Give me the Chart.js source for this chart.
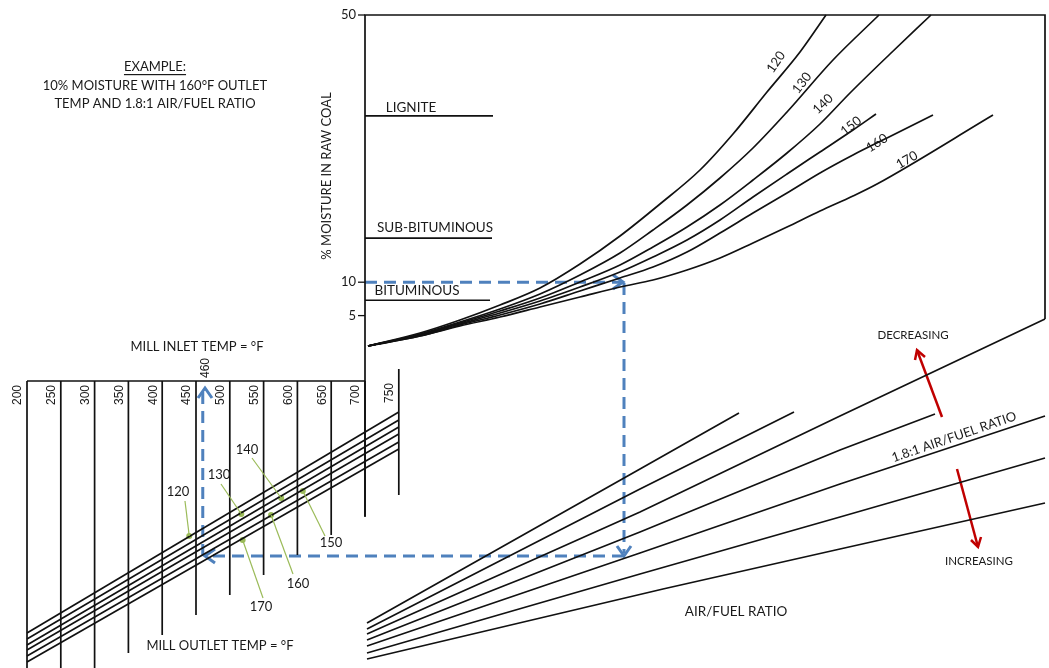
<!DOCTYPE html>
<html><head><meta charset="utf-8">
<script src="https://cdn.jsdelivr.net/npm/chart.js@4.4.1/dist/chart.umd.min.js"></script>
<style>html,body{margin:0;padding:0;background:#fff;}#wrap{width:1049px;height:668px;position:relative;}</style>
</head><body><div id="wrap"><canvas id="c" width="1049" height="668"></canvas></div>
<script>
// ================= DATA =================
// Mill inlet temperature scale (°F)
const inletTemps = [200, 250, 300, 350, 400, 450, 500, 550, 600, 650, 700, 750];
const inletLineBottom = [668, 668, 668, 653, 635, 615, 595, 575, 555, 535, 516, 495];
// Moisture axis ticks (% moisture in raw coal)
const moistureTicks = [50, 10, 5];
// Coal types and their typical moisture (%)
const coalTypes = ['LIGNITE', 'SUB-BITUMINOUS', 'BITUMINOUS'];
const coalMoisture = [34.9, 16.6, 7.3];
const coalLineEnd = [493, 492, 490];
// Mill outlet temperatures (°F)
const outletTemps = [120, 130, 140, 150, 160, 170];
// outlet-temp lines in the inlet section: y at inlet 200°F and at 750°F
const outletLeftY = [633, 639, 645, 650, 656, 662];
const outletRightY = [412, 420, 427, 434, 442, 449];
// marked points on outlet lines (inlet °F, y) and their label anchors
const outletDotT = [440, 517, 576, 608, 561, 519];
const outletDotY = [536, 514, 498, 491, 515, 540];
const outletLabelX = [178, 219, 247, 331, 298, 261];
const outletLabelY = [492, 475, 450, 543, 584, 607];
const outletLeaderEndX = [185, 221, 252, 325, 293, 263];
const outletLeaderEndY = [501, 484, 458, 536, 574, 598];
// moisture curves (one per outlet temperature) in the upper panel
const curve120 = [[368,346],[420,333],[460,320],[500,305],[540,288],[580,264],[620,236],[660,204],[700,170],[733,134],[767,92],[800,52],[826,15]];
const curve130 = [[368,346],[420,334],[460,322],[500,309],[540,294],[580,275],[620,253],[653,230],[687,205],[720,178],[753,148],[787,112],[833,60],[879,15]];
const curve140 = [[368,346],[420,335],[460,323],[500,311],[540,298],[580,282],[620,265],[653,247],[687,227],[720,205],[753,180],[787,153],[820,124],[850,93],[890,54],[931,15]];
const curve150 = [[368,346],[420,335],[460,324],[500,313],[540,301],[580,287],[620,272],[653,257],[687,240],[720,220],[753,197],[787,174],[820,152],[853,130],[876,114]];
const curve160 = [[368,346],[420,336],[460,325],[500,315],[540,304],[580,291],[620,278],[653,267],[687,252],[720,233],[753,213],[787,193],[820,173],[853,155],[887,138],[933,115]];
const curve170 = [[368,346],[420,336],[460,326],[500,317],[540,307],[580,297],[620,287],[653,280],[687,270],[720,258],[753,243],[787,227],[820,211],[853,196],[877,184],[993,115]];
const topCurves = [curve120, curve130, curve140, curve150, curve160, curve170];
const topLabelX = [776, 802, 823, 851, 877, 907];
const topLabelY = [62, 83, 104, 126, 143, 160];
const topLabelRot = [-55, -52, -44, -38, -33, -30];
// air/fuel ratio lines in the lower right panel
const afLine1 = [[367,623],[640,469],[739,413]];
const afLine2 = [[367,629],[640,489],[794,412]];
const afLine3 = [[367,634],[640,512],[840,416],[1045,319]];
const afLine4 = [[367,640],[640,532],[840,450],[935,414]];
const afLine5 = [[367,646],[640,553],[840,484],[1045,416]]; // 1.8:1
const afLine6 = [[367,653],[640,574],[840,517],[1045,458]];
const afLine7 = [[367,659],[663,589],[840,549],[1045,503]];
const afLines = [afLine1, afLine2, afLine3, afLine4, afLine5, afLine6, afLine7];
// worked example: 10 % moisture, 160 °F outlet, 1.8:1 air/fuel -> 460 °F inlet
const exampleMoisture = 10;
const exampleInlet = 460;

// ================= CHART =================
const BLACK = '#111111', BLUE = '#4f81bd', GREEN = '#9bbb59', RED = '#c00000';
const pts = a => a.map(p => ({x: p[0], y: p[1]}));
const datasets = [];
function line(data, opt) {
  datasets.push(Object.assign({data, showLine: true, pointRadius: 0, borderColor: BLACK,
    borderWidth: 1.7, fill: false, tension: 0, clip: false, xAxisID: 'x', yAxisID: 'y'}, opt || {}));
}
// frame of upper panel
line(pts([[365,517],[365,15],[1045,15],[1045,319]]));
// moisture ticks
moistureTicks.forEach(m => line([{x:358,y:m},{x:365,y:m}], {yAxisID:'yMoist', borderWidth:1.3}));
// coal lines
coalMoisture.forEach((m,i) => line([{x:365,y:m},{x:coalLineEnd[i],y:m}], {yAxisID:'yMoist'}));
// top curves
topCurves.forEach(c => line(pts(c), {cubicInterpolationMode:'monotone'}));
// air/fuel lines
afLines.forEach(c => line(pts(c)));
// inlet section: top border + vertical lines
line([{x:200,y:381},{x:700,y:381}], {xAxisID:'xInlet'});
inletTemps.forEach((t,i) => line([{x:t,y: t===750 ? 369 : 381},{x:t,y:inletLineBottom[i]}], {xAxisID:'xInlet'}));
// outlet temp lines
outletTemps.forEach((t,i) => line([{x:200,y:outletLeftY[i]},{x:750,y:outletRightY[i]}], {xAxisID:'xInlet'}));
// green dots
outletTemps.forEach((t,i) => {
  line([{x:outletDotT[i], y:outletDotY[i]}], {xAxisID:'xInlet', showLine:false, pointRadius:3, pointBackgroundColor:GREEN, pointBorderColor:GREEN, borderWidth:0});
});
// example path (blue dashed)
const dash = {borderColor: BLUE, borderWidth: 3, borderDash: [12, 7]};
line([{x:365,y:exampleMoisture},{x:621,y:exampleMoisture}], Object.assign({yAxisID:'yMoist'}, dash));
line(pts([[624,283],[624,553]]), dash);
line(pts([[624,556],[208,556]]), dash);
line([{x:exampleInlet,y:556},{x:exampleInlet,y:390}], Object.assign({xAxisID:'xInlet'}, dash));
// arrow heads (blue)
const head = {borderColor: BLUE, borderWidth: 3};
line(pts([[613,275],[623,282],[613,289]]), head);
line(pts([[617,546],[624,556],[631,546]]), head);
line(pts([[215,549],[205,556],[215,563]]), head);
line(pts([[198,398],[205,388],[212,398]]), head);
// red arrows
const red = {borderColor: RED, borderWidth: 2.5};
line(pts([[942,417],[917,350]]), red);
line(pts([[915,360],[917,350],[925,357]]), red);
line(pts([[957,469],[978,547]]), red);
line(pts([[981,537],[978,547],[971,540]]), red);

const FONT = 'Lato, "Open Sans", sans-serif';
const NUMFONT = '"Liberation Sans", Arial, sans-serif';
const TXT = '#1a1a1a';

const textPlugin = {
  id: 'texts',
  afterDatasetsDraw(chart) {
    const ctx = chart.ctx, s = chart.scales;
    const X = v => s.x.getPixelForValue(v), Y = v => s.y.getPixelForValue(v);
    const XI = v => s.xInlet.getPixelForValue(v), YM = v => s.yMoist.getPixelForValue(v);
    function txt(t, x, y, o) {
      o = o || {};
      ctx.save();
      ctx.translate(x, y);
      if (o.rot) ctx.rotate(o.rot * Math.PI / 180);
      ctx.font = (o.size || 13) + 'px ' + (o.family || FONT);
      ctx.fillStyle = o.color || TXT;
      ctx.textAlign = o.align || 'center';
      ctx.textBaseline = 'middle';
      ctx.fillText(t, 0, 0);
      if (o.underline) {
        const w = ctx.measureText(t).width;
        ctx.fillRect(-w/2, 7, w, 1.2);
      }
      ctx.restore();
    }
    // green leader lines
    ctx.save(); ctx.strokeStyle = GREEN; ctx.lineWidth = 1.2;
    outletTemps.forEach((t,i) => {
      ctx.beginPath(); ctx.moveTo(XI(outletDotT[i]), Y(outletDotY[i]));
      ctx.lineTo(X(outletLeaderEndX[i]), Y(outletLeaderEndY[i])); ctx.stroke();
    });
    ctx.restore();
    // example text
    txt('EXAMPLE:', X(155), Y(67), {underline: true});
    txt('10% MOISTURE WITH 160°F OUTLET', X(155), Y(86));
    txt('TEMP AND 1.8:1 AIR/FUEL RATIO', X(155), Y(104));
    // moisture axis
    txt('% MOISTURE IN RAW COAL', X(327), Y(176), {rot: -90});
    moistureTicks.forEach(m => txt(String(m), X(356), YM(m), {align: 'right'}));
    // coal types
    const coalLabelX = [411, 435, 417];
    const coalLabelY = [108, 228, 291];
    coalTypes.forEach((c,i) => txt(c, X(coalLabelX[i]), Y(coalLabelY[i]), {size: 13.5}));
    // inlet temps
    inletTemps.forEach(t => txt(String(t), XI(t) - 9, Y(t === 750 ? 393 : 395), {rot: -90, size: 12, family: NUMFONT}));
    txt(String(exampleInlet), XI(exampleInlet) + 3, Y(368), {rot: -90, size: 12, family: NUMFONT});
    txt('MILL INLET TEMP = °F', X(197), Y(347));
    txt('MILL OUTLET TEMP = °F', X(220), Y(646));
    // outlet temp labels
    outletTemps.forEach((t,i) => txt(String(t), X(outletLabelX[i]), Y(outletLabelY[i])));
    outletTemps.forEach((t,i) => txt(String(t), X(topLabelX[i]), Y(topLabelY[i]), {rot: topLabelRot[i]}));
    // air/fuel
    txt('AIR/FUEL RATIO', X(736), Y(612), {size: 13.5});
    txt('DECREASING', X(913), Y(335), {size: 11.5});
    txt('INCREASING', X(979), Y(561), {size: 11.5});
    txt('1.8:1 AIR/FUEL RATIO', X(954), Y(437), {rot: -19});
  }
};

new Chart(document.getElementById('c'), {
  type: 'scatter',
  data: {datasets},
  options: {
    responsive: false, animation: false, devicePixelRatio: 1,
    layout: {padding: 0, autoPadding: false},
    plugins: {legend: {display: false}, tooltip: {enabled: false}},
    events: [],
    scales: {
      x: {type: 'linear', min: 0, max: 1049, display: false},
      y: {type: 'linear', min: 0, max: 668, reverse: true, display: false},
      xInlet: {type: 'linear', axis: 'x', min: 200 - 27 / 0.676, max: 200 - 27 / 0.676 + 1049 / 0.676, display: false},
      yMoist: {type: 'linear', axis: 'y', min: -(668 - 349) / 6.68, max: 349 / 6.68, display: false}
    }
  },
  plugins: [textPlugin]
});
</script>
</body></html>
